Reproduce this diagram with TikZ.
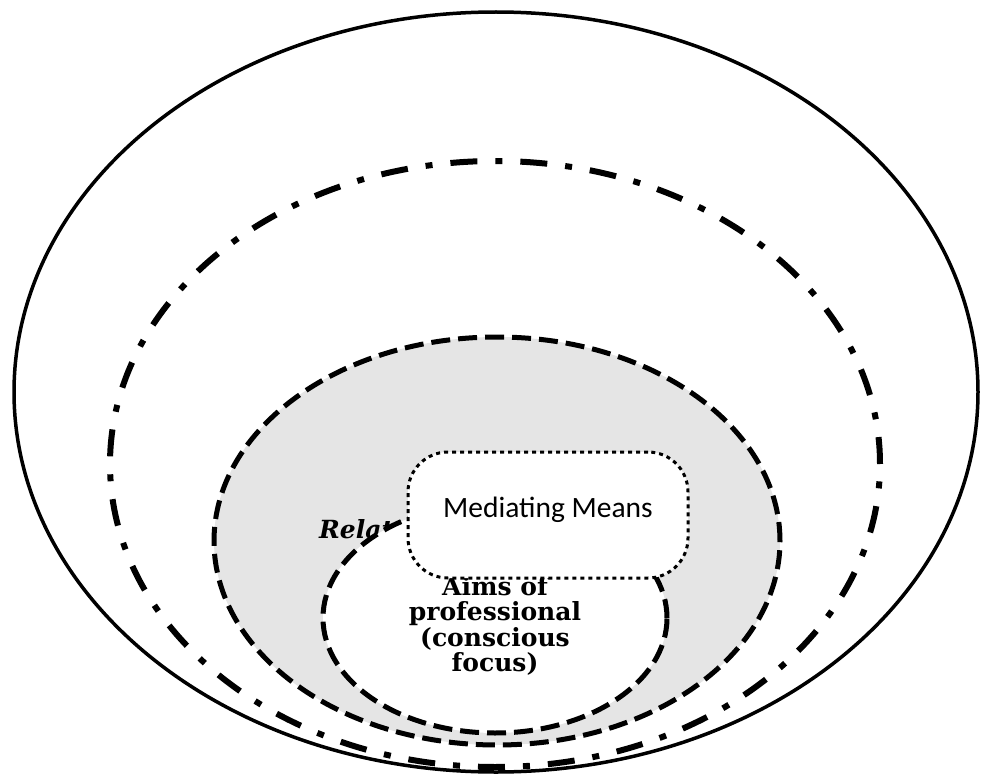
\documentclass[tikz,border=0pt]{standalone}
\usepackage{fontspec}
\usetikzlibrary{shapes.geometric}
\newfontfamily\mmfont{Carlito}
\newfontfamily\serifbold{DejaVu Serif}
\tikzset{
  outerring/.style={ellipse, draw, line width=3.5pt, inner sep=0pt},
  dashdotring/.style={ellipse, draw, line width=6pt, inner sep=0pt, dash pattern=on 27pt off 18pt on 7pt off 18pt},
  dashring/.style={ellipse, draw, line width=5pt, inner sep=0pt, dash pattern=on 19pt off 8pt},
  dottedbox/.style={draw, fill=white, line width=3pt, dash pattern=on 4pt off 4pt, rounded corners=40pt, inner sep=0pt},
}
\begin{document}
\begin{tikzpicture}[x=1pt,y=-1pt]
\useasboundingbox (0,0) rectangle (989,776);
\node[outerring, minimum width=964pt, minimum height=760pt] (outer) at (496,392) {};
\node[dashdotring, minimum width=770pt, minimum height=606pt] (dd) at (495,464) {};
\node[dashring, fill=black!10, minimum width=566pt, minimum height=408pt] (gray) at (497,541) {};
\node[font=\serifbold\bfseries\itshape\fontsize{25}{28}\selectfont, anchor=base west, inner sep=0pt] (rel) at (319,538) {Relat};
\node[dashring, fill=white, minimum width=344pt, minimum height=230pt] (aimsring) at (495,618) {};
\node[font=\serifbold\bfseries\fontsize{25}{25.5}\selectfont, align=center, inner sep=0pt] (aims) at (495,626) {Aims of\\professional\\(conscious\\focus)};
\node[dottedbox, minimum width=280pt, minimum height=126pt] (mmbox) at (548,515) {};
\node[font=\mmfont\fontsize{29.5}{33}\selectfont, inner sep=0pt] (mm) at (548,510) {Mediating Means};
\end{tikzpicture}
\end{document}
